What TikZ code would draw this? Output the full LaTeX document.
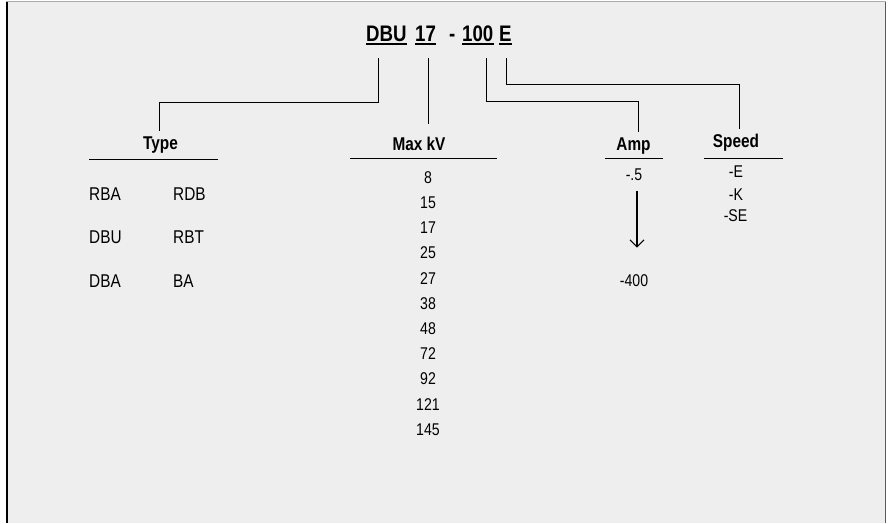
\documentclass[tikz,border=0pt]{standalone}
\usepackage{fontspec}
\setmainfont{Liberation Sans}[FakeStretch=0.83]
\usetikzlibrary{arrows.meta}
\definecolor{panelgray}{HTML}{EEEEEE}
\definecolor{framegray}{HTML}{5A5A5A}
\tikzset{
  codepart/.style={inner sep=0pt, anchor=base west, font=\fontsize{22.5}{24}\selectfont\bfseries},
  headtext/.style={inner sep=0pt, outer sep=5pt, anchor=base, font=\fontsize{18.5}{20}\selectfont\bfseries},
  typetext/.style={inner sep=0pt, anchor=base west, font=\fontsize{18.5}{20}\selectfont},
  valtext/.style={inner sep=0pt, anchor=base, font=\fontsize{17}{18}\selectfont},
  leg/.style={line width=1pt},
}

\begin{document}
\begin{tikzpicture}[x=1pt,y=-1pt]
    \useasboundingbox (0,0) rectangle (890,523);
    % Panel
    \fill[panelgray] (6,1) rectangle (886,523);
    \draw[line width=1.6pt] (6.8,1) -- (6.8,523);
    \draw[framegray, line width=1.4pt] (885.3,1) -- (885.3,523);
    \draw[framegray!50, line width=0.8pt] (6,1.4) -- (886,1.4);
    % Catalogue Number
    \node[codepart] (dbu) at (366,41) {DBU};
    \node[codepart] (kvcode) at (415,41) {17};
    \node[codepart] (dash) at (449,41) {-};
    \node[codepart] (ampcode) at (462,41) {100};
    \node[codepart] (ecode) at (499,41) {E};
    \draw[line width=1.3pt] ([yshift=-3pt]dbu.base west) -- ([yshift=-3pt]dbu.base east);
    \draw[line width=1.3pt] ([yshift=-3pt]kvcode.base west) -- ([yshift=-3pt]kvcode.base east);
    \draw[line width=1.3pt] ([yshift=-3pt]ampcode.base west) -- ([yshift=-3pt]ampcode.base east);
    \draw[line width=1.3pt] ([yshift=-3pt]ecode.base west) -- ([yshift=-3pt]ecode.base east);
    % Headings
    \node[headtext] (type) at (160.5,149) {Type};
    \node[headtext] (maxkv) at (419,150) {Max kV};
    \node[headtext] (amp) at (633.5,150) {Amp};
    \node[headtext] (speed) at (736,147) {Speed};
    \draw[leg] (89,159) -- (218,159);
    \draw[leg] (350,158) -- (497,158);
    \draw[leg] (605,158) -- (663,158);
    \draw[leg] (704,158) -- (783,158);
    %
    % Legs from the Catalogue Number:
    \coordinate (dbuleg) at (378,58);
    \coordinate (kvleg) at (428,58);
    \coordinate (ampleg) at (486,58);
    \coordinate (eleg) at (506,58);
    \coordinate (typeknee) at (159,102);
    \coordinate (ampknee) at (638,101);
    \coordinate (speedknee) at (739,84);
    \draw[leg] (dbuleg) |- (typeknee) -- (typeknee |- type.north);
    \draw[leg] (kvleg) -- ([yshift=8pt]kvleg |- maxkv.north);
    \draw[leg] (ampleg) |- (ampknee) -- (ampknee |- amp.north);
    \draw[leg] (eleg) |- (speedknee) -- (speedknee |- speed.north);
    %
    % Type Column
    \node[typetext] (rba) at (89,200.5) {RBA};
    \node[typetext] (rdb) at (173,200.5) {RDB};
    \node[typetext] (dbutype) at (89,243.8) {DBU};
    \node[typetext] (rbt) at (173,243.8) {RBT};
    \node[typetext] (dba) at (89,287) {DBA};
    \node[typetext] (ba) at (173,287) {BA};
    % Max kV Column
    \node[valtext] (kv8) at (428,183.3) {8};
    \node[valtext] (kv15) at (428,208.5) {15};
    \node[valtext] (kv17) at (428,233.7) {17};
    \node[valtext] (kv25) at (428,258.9) {25};
    \node[valtext] (kv27) at (428,284.1) {27};
    \node[valtext] (kv38) at (428,309.3) {38};
    \node[valtext] (kv48) at (428,334.5) {48};
    \node[valtext] (kv72) at (428,359.7) {72};
    \node[valtext] (kv92) at (428,384.9) {92};
    \node[valtext] (kv121) at (428,410.1) {121};
    \node[valtext] (kv145) at (428,435.3) {145};
    % Amp Column
    \node[valtext] (amplo) at (634,180) {-.5};
    \node[valtext] (amphi) at (634,286.7) {-400};
    \draw[line width=1.1pt, -{Straight Barb[length=7pt,width=14pt]}] ([xshift=3pt,yshift=-11pt]amplo.south) -- ([xshift=3pt,yshift=27pt]amphi.north);
    % Speed Column
    \node[valtext] (spe) at (736,177.3) {-E};
    \node[valtext] (spk) at (736,200) {-K};
    \node[valtext] (spse) at (735.5,221) {-SE};
\end{tikzpicture}
\end{document}
